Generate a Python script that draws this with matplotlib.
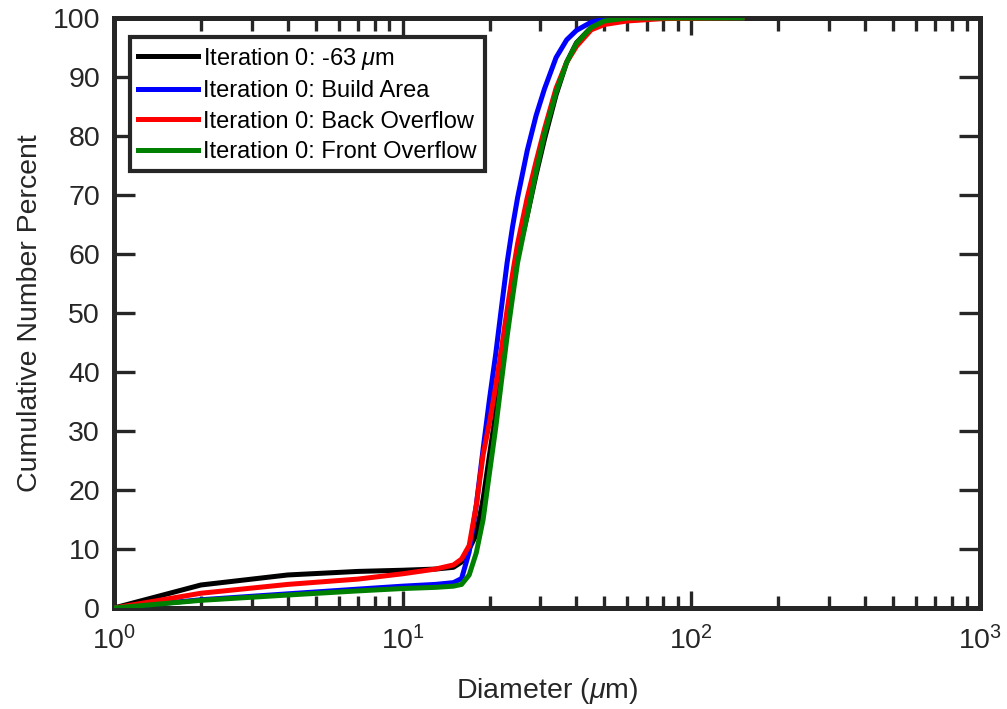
import matplotlib
matplotlib.use("Agg")
import matplotlib.pyplot as plt
from matplotlib.ticker import LogLocator, NullFormatter, MultipleLocator

plt.rcParams['font.family'] = ['Liberation Sans', 'DejaVu Sans']
plt.rcParams['mathtext.fontset'] = 'custom'
plt.rcParams['mathtext.rm'] = 'Liberation Sans'
plt.rcParams['mathtext.it'] = 'Liberation Sans:italic'
plt.rcParams['mathtext.bf'] = 'Liberation Sans:bold'

# Diameter grid (um)
diameter = [1, 2, 4, 7, 10, 13, 15, 16, 17, 18, 19, 20, 21, 22, 23, 24, 25,
            27, 29, 31, 34, 37, 40, 45, 50, 60, 80, 150]

minus63 = [0, 3.9, 5.6, 6.2, 6.4, 6.6, 6.9, 7.8, 10.0, 12.5, 18.5, 26.0, 33.0,
           40.5, 48.0, 54.5, 59.5, 66.5, 73.5, 79.5, 87.0, 92.5, 95.8, 98.4,
           99.6, 100, 100, 100]
build_area = [0, 1.4, 2.4, 3.2, 3.7, 4.0, 4.3, 5.0, 9.5, 17.5, 27.0, 35.5, 43.0,
              51.0, 58.5, 64.5, 69.5, 77.5, 83.5, 88.0, 93.3, 96.3, 97.9, 99.3,
              99.8, 100, 100, 100]
back_overflow = [0, 2.5, 4.0, 4.9, 5.8, 6.6, 7.3, 8.3, 10.6, 17.5, 26.0, 31.5,
                 37.5, 44.0, 50.5, 56.5, 61.7, 69.5, 75.7, 81.2, 88.1, 92.5,
                 95.2, 98.0, 98.9, 99.5, 99.9, 100]
front_overflow = [0, 1.3, 2.2, 2.9, 3.3, 3.5, 3.7, 4.0, 5.6, 9.4, 15.0, 23.0,
                  30.5, 38.5, 46.0, 52.5, 58.5, 66.5, 74.0, 80.3, 87.4, 92.5,
                  95.7, 98.4, 99.5, 100, 100, 100]

labels = ['Iteration 0: -63 $\\mu$m', 'Iteration 0: Build Area',
          'Iteration 0: Back Overflow', 'Iteration 0: Front Overflow']
colors = ['#000000', '#0000ff', '#ff0000', '#008000']
series = [minus63, build_area, back_overflow, front_overflow]

fig = plt.figure(figsize=(10.07, 7.09), dpi=100)
ax = fig.add_axes([114/1007, 101/709, 866/1007, 590/709])

for s, c, l in zip(series, colors, labels):
    ax.plot(diameter, s, color=c, lw=3.6, label=l, solid_joinstyle='round',
            zorder=3)

ax.set_xscale('log')
ax.set_xlim(1, 1000)
ax.set_ylim(0, 100)
ax.yaxis.set_major_locator(MultipleLocator(10))
ax.xaxis.set_major_locator(LogLocator(base=10, numticks=10))
ax.xaxis.set_minor_locator(LogLocator(base=10, subs=[2, 3, 4, 5, 6, 7, 8, 9],
                                      numticks=100))
ax.xaxis.set_minor_formatter(NullFormatter())

axc = '#262626'
for sp in ax.spines.values():
    sp.set_linewidth(3.6)
    sp.set_color(axc)

ax.tick_params(axis='x', which='major', direction='in', length=12, width=2.4,
               top=True, color=axc, labelsize=20.5, labelcolor=axc, pad=13)
ax.tick_params(axis='x', which='minor', direction='in', length=9, width=2.4,
               top=True, bottom=True, color=axc)
ax.tick_params(axis='y', which='major', direction='in', length=15, width=2.4,
               right=True, color=axc, labelsize=20.5, labelcolor=axc, pad=10)

ax.set_xlabel('Diameter ($\\mu$m)', fontsize=20.5, color=axc, labelpad=15)
ax.set_ylabel('Cumulative Number Percent', fontsize=20.5, color=axc, labelpad=7)

leg = ax.legend(loc='upper left', bbox_to_anchor=(0.018, 0.967), borderaxespad=0,
                fontsize=17, handlelength=2.55, handletextpad=0.2,
                borderpad=0.35, labelspacing=0.36, fancybox=False,
                framealpha=1, edgecolor=axc)
leg.get_frame().set_linewidth(3.0)
leg.set_zorder(5)

fig.savefig('out.png', dpi=100)
